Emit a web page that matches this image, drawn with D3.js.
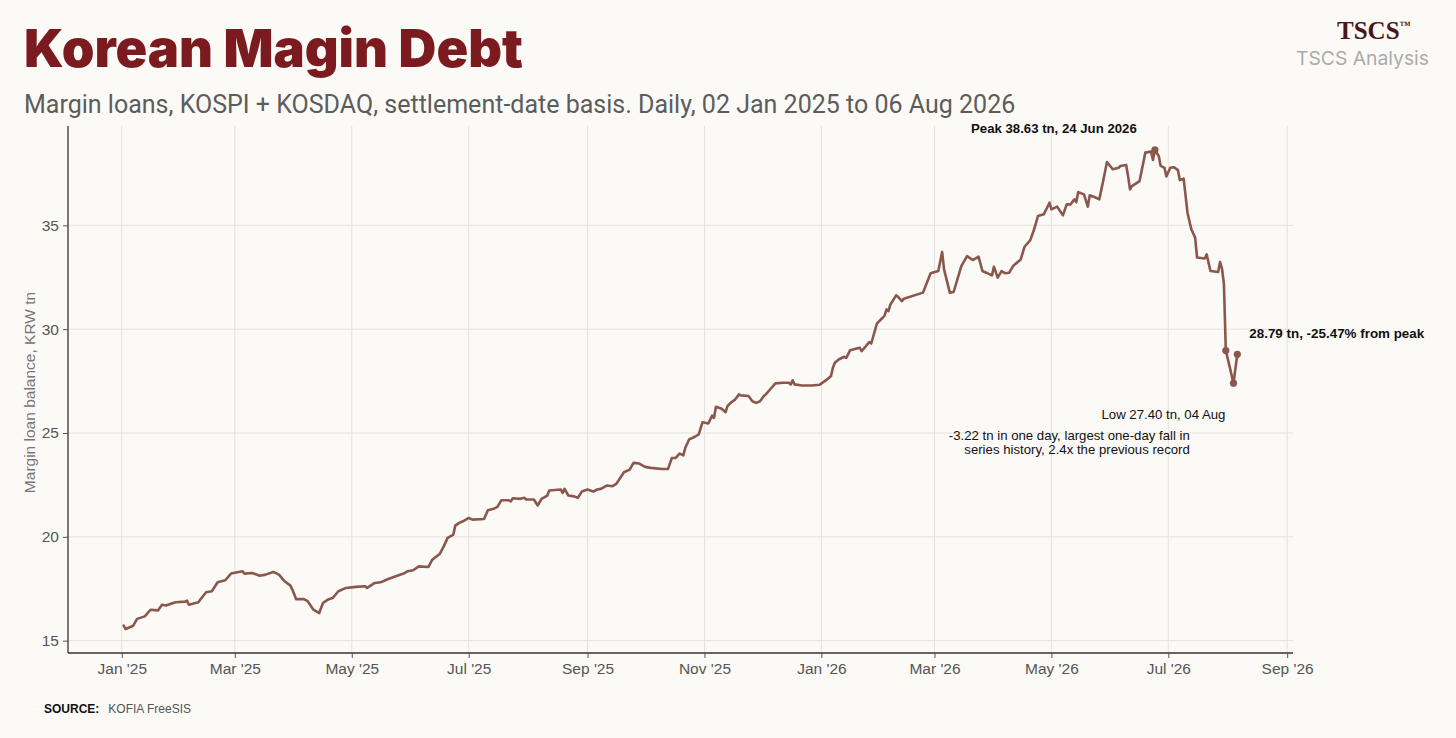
<!DOCTYPE html>
<html>
<head>
<meta charset="utf-8">
<script src="https://cdn.jsdelivr.net/npm/d3@7/dist/d3.min.js"></script>
<style>
  html, body { margin: 0; padding: 0; background: #fbfaf7; }
  svg { display: block; }
</style>
</head>
<body>
<svg id="chart" width="1456" height="738"></svg>
<script>
// ---------------- DATA ----------------
const dates = [
  "2025-01-02","2025-01-03","2025-01-07","2025-01-09","2025-01-13","2025-01-16","2025-01-20","2025-01-22","2025-01-24","2025-01-29",
  "2025-02-03","2025-02-04","2025-02-05","2025-02-10","2025-02-11","2025-02-14","2025-02-17","2025-02-20","2025-02-24","2025-02-27",
  "2025-03-05","2025-03-06","2025-03-10","2025-03-14","2025-03-17","2025-03-21","2025-03-24","2025-03-27","2025-03-30","2025-03-31",
  "2025-04-02","2025-04-06","2025-04-08","2025-04-11","2025-04-14","2025-04-16","2025-04-19","2025-04-21","2025-04-24","2025-04-28",
  "2025-05-03","2025-05-08","2025-05-09","2025-05-13","2025-05-16","2025-05-20","2025-05-28","2025-05-30",
  "2025-06-02","2025-06-05","2025-06-10","2025-06-12","2025-06-16","2025-06-18","2025-06-20","2025-06-23","2025-06-24","2025-06-26","2025-06-28",
  "2025-07-01","2025-07-03","2025-07-09","2025-07-11","2025-07-14","2025-07-16","2025-07-18","2025-07-22","2025-07-23","2025-07-24","2025-07-28","2025-07-30","2025-07-31",
  "2025-08-04","2025-08-06","2025-08-08","2025-08-11","2025-08-12","2025-08-18","2025-08-19","2025-08-20","2025-08-22","2025-08-25","2025-08-27","2025-08-29",
  "2025-09-01","2025-09-04","2025-09-06","2025-09-08","2025-09-11","2025-09-14","2025-09-16","2025-09-20","2025-09-23","2025-09-25","2025-09-28",
  "2025-10-01","2025-10-04","2025-10-10","2025-10-13","2025-10-15","2025-10-17","2025-10-19","2025-10-21","2025-10-22","2025-10-24","2025-10-27","2025-10-29","2025-10-31",
  "2025-11-03","2025-11-05","2025-11-06","2025-11-07","2025-11-10","2025-11-12","2025-11-13","2025-11-15","2025-11-17","2025-11-19","2025-11-20","2025-11-24","2025-11-26","2025-11-28","2025-11-30",
  "2025-12-02","2025-12-03","2025-12-06","2025-12-08","2025-12-12","2025-12-15","2025-12-16","2025-12-17","2025-12-18","2025-12-22","2025-12-27","2025-12-31",
  "2026-01-04","2026-01-06","2026-01-07","2026-01-08","2026-01-10","2026-01-13","2026-01-14","2026-01-16","2026-01-21","2026-01-22","2026-01-26","2026-01-27","2026-01-30",
  "2026-02-02","2026-02-03","2026-02-04","2026-02-05","2026-02-06","2026-02-09","2026-02-10","2026-02-12","2026-02-13","2026-02-23","2026-02-27",
  "2026-03-03","2026-03-05","2026-03-06","2026-03-09","2026-03-11","2026-03-14","2026-03-15","2026-03-18","2026-03-21","2026-03-24","2026-03-26","2026-03-28","2026-03-31",
  "2026-04-01","2026-04-03","2026-04-05","2026-04-07","2026-04-09","2026-04-11","2026-04-15","2026-04-17","2026-04-20","2026-04-22","2026-04-24","2026-04-27","2026-04-30",
  "2026-05-01","2026-05-04","2026-05-07","2026-05-09","2026-05-11","2026-05-13","2026-05-14","2026-05-15","2026-05-18","2026-05-20","2026-05-21","2026-05-24","2026-05-26","2026-05-28","2026-05-30",
  "2026-06-02","2026-06-05","2026-06-06","2026-06-09","2026-06-10","2026-06-11","2026-06-12","2026-06-16","2026-06-19","2026-06-22","2026-06-23","2026-06-24","2026-06-26","2026-06-27","2026-06-29","2026-06-30",
  "2026-07-02","2026-07-04","2026-07-06","2026-07-07","2026-07-09","2026-07-11","2026-07-13","2026-07-15","2026-07-16","2026-07-20","2026-07-21","2026-07-23","2026-07-27","2026-07-28","2026-07-29","2026-07-30","2026-07-31",
  "2026-08-04","2026-08-06"
];
const values = [
  15.72,15.56,15.72,16.05,16.17,16.49,16.46,16.73,16.69,16.85,
  16.88,16.93,16.73,16.85,16.98,17.33,17.38,17.81,17.91,18.23,
  18.34,18.23,18.26,18.13,18.18,18.31,18.18,17.86,17.65,17.46,
  17.00,17.00,16.90,16.49,16.33,16.82,17.00,17.05,17.38,17.54,
  17.59,17.62,17.54,17.78,17.81,17.97,18.23,18.34,
  18.39,18.58,18.55,18.90,19.19,19.54,19.95,20.11,20.54,20.67,20.75,
  20.91,20.83,20.86,21.28,21.35,21.44,21.76,21.76,21.71,21.86,21.83,21.88,21.80,
  21.80,21.51,21.83,21.99,22.23,22.28,22.12,22.31,21.99,21.95,21.88,22.18,
  22.28,22.18,22.28,22.31,22.47,22.44,22.55,23.11,23.24,23.56,23.53,
  23.37,23.32,23.27,23.27,23.80,23.80,24.01,23.92,24.29,24.69,24.82,24.93,25.52,
  25.46,25.84,25.73,26.26,26.17,26.00,26.29,26.48,26.61,26.86,26.81,26.78,26.53,26.45,26.53,
  26.78,26.86,27.18,27.39,27.42,27.42,27.34,27.54,27.34,27.29,27.29,27.32,
  27.58,27.74,28.14,28.38,28.54,28.67,28.62,28.99,29.11,28.94,29.38,29.31,30.28,
  30.55,30.66,30.95,30.87,31.19,31.63,31.56,31.35,31.47,31.76,32.69,
  32.80,33.72,32.88,31.76,31.79,32.72,33.04,33.52,33.33,33.49,32.80,32.72,32.59,
  33.01,32.48,32.80,32.69,32.72,33.04,33.36,33.97,34.29,34.81,35.45,35.53,36.09,
  35.77,35.90,35.48,36.01,36.01,36.25,36.12,36.60,36.49,35.90,36.45,36.34,36.25,37.13,38.05,
  37.70,37.77,37.86,37.91,37.38,36.73,36.89,37.13,38.50,38.55,38.15,38.63,38.34,37.86,37.77,37.35,
  37.77,37.80,37.66,37.18,37.25,35.61,34.81,34.41,33.45,33.40,33.60,32.80,32.75,33.23,32.92,32.19,28.97,
  27.40,28.79
];
const yTicks = [15, 20, 25, 30, 35];
const xTickDates = ["2025-01-01","2025-03-01","2025-05-01","2025-07-01","2025-09-01","2025-11-01","2026-01-01","2026-03-01","2026-05-01","2026-07-01","2026-09-01"];
const xTickLabels = ["Jan '25","Mar '25","May '25","Jul '25","Sep '25","Nov '25","Jan '26","Mar '26","May '26","Jul '26","Sep '26"];
const markedDates = ["2026-06-24","2026-07-31","2026-08-04","2026-08-06"];

const titleText = "Korean Magin Debt";
const subtitleText = "Margin loans, KOSPI + KOSDAQ, settlement-date basis. Daily, 02 Jan 2025 to 06 Aug 2026";
const yTitle = "Margin loan balance, KRW tn";
const peakLabel = "Peak 38.63 tn, 24 Jun 2026";
const lastLabel = "28.79 tn, -25.47% from peak";
const lowLabel = "Low 27.40 tn, 04 Aug";
const fallNote = ["-3.22 tn in one day, largest one-day fall in", "series history, 2.4x the previous record"];

// ---------------- CHART ----------------
const parse = d3.utcParse("%Y-%m-%d");
const data = dates.map((d, i) => ({ date: parse(d), value: values[i] }));

const svg = d3.select("#chart");
const W = 1456, H = 738;
const plot = { left: 68, right: 1293, top: 126, bottom: 653 };

svg.append("rect").attr("width", W).attr("height", H).attr("fill", "#fbfaf7");

// scales with 5% expansion like the reference
const xExt = d3.extent(data, d => d.date);
const xPad = (xExt[1] - xExt[0]) * 0.05;
const x = d3.scaleUtc()
  .domain([new Date(+xExt[0] - xPad), new Date(+xExt[1] + xPad)])
  .range([plot.left, plot.right]);
const yExt = d3.extent(data, d => d.value);
const yPad = (yExt[1] - yExt[0]) * 0.05;
const y = d3.scaleLinear()
  .domain([yExt[0] - yPad, yExt[1] + yPad])
  .range([plot.bottom, plot.top]);

const xTicks = xTickDates.map(parse);

// grid
const grid = svg.append("g").attr("class", "grid");
grid.selectAll("line.h").data(yTicks).join("line")
  .attr("x1", plot.left).attr("x2", plot.right)
  .attr("y1", d => y(d)).attr("y2", d => y(d))
  .attr("stroke", "#e4e2de").attr("stroke-width", 1);
grid.selectAll("line.v").data(xTicks).join("line")
  .attr("x1", d => x(d)).attr("x2", d => x(d))
  .attr("y1", plot.top).attr("y2", plot.bottom)
  .attr("stroke", "#e4e2de").attr("stroke-width", 1);

// axes
const fontAxis = "'Liberation Sans', Arial, sans-serif";
const yAxis = d3.axisLeft(y).tickValues(yTicks).tickSize(5).tickPadding(4).tickFormat(d3.format("d"));
const gy = svg.append("g").attr("transform", `translate(${plot.left},0)`).call(yAxis);
const xAxis = d3.axisBottom(x).tickValues(xTicks).tickSize(5).tickPadding(5)
  .tickFormat((d, i) => xTickLabels[i]);
const gx = svg.append("g").attr("transform", `translate(0,${plot.bottom})`).call(xAxis);
[gx, gy].forEach(g => {
  g.select(".domain").attr("stroke", "#333").attr("stroke-width", 1.3);
  g.selectAll(".tick line").attr("stroke", "#555");
  g.selectAll(".tick text").attr("fill", "#555").attr("font-family", fontAxis).attr("font-size", 15.5);
});
gy.select(".domain").attr("d", `M0,${plot.top}V${plot.bottom}`);
gx.select(".domain").attr("d", `M${plot.left},0H${plot.right}`);

// y title
svg.append("text")
  .attr("transform", `translate(35,${(plot.top + plot.bottom) / 2 + 3}) rotate(-90)`)
  .attr("text-anchor", "middle")
  .attr("font-family", fontAxis).attr("font-size", 15.5).attr("fill", "#777")
  .text(yTitle);

// line
const lineColor = "#8b574c";
const line = d3.line().x(d => x(d.date)).y(d => y(d.value));
svg.append("path").datum(data)
  .attr("d", line).attr("fill", "none")
  .attr("stroke", lineColor).attr("stroke-width", 2.6)
  .attr("stroke-linejoin", "round").attr("stroke-linecap", "round");

// markers
const fmt = d3.utcFormat("%Y-%m-%d");
const marked = data.filter(d => markedDates.includes(fmt(d.date)));
svg.selectAll("circle.mk").data(marked).join("circle")
  .attr("cx", d => x(d.date)).attr("cy", d => y(d.value)).attr("r", 3.6)
  .attr("fill", lineColor);

const byDate = s => data.find(d => fmt(d.date) === s);
const peak = byDate("2026-06-24"), fall = byDate("2026-07-31"), low = byDate("2026-08-04"), last = byDate("2026-08-06");

const annFont = "'Liberation Sans', Arial, sans-serif";
svg.append("text")
  .attr("x", x(peak.date) - 101).attr("y", y(peak.value) - 17)
  .attr("text-anchor", "middle").attr("font-family", annFont).attr("font-weight", "bold")
  .attr("font-size", 13.2).attr("fill", "#111").text(peakLabel);
svg.append("text")
  .attr("x", x(last.date) + 12).attr("y", y(last.value) - 16)
  .attr("font-family", annFont).attr("font-weight", "bold")
  .attr("font-size", 13.4).attr("fill", "#111").text(lastLabel);
svg.append("text")
  .attr("x", x(low.date) - 70).attr("y", y(low.value) + 36)
  .attr("text-anchor", "middle").attr("font-family", annFont)
  .attr("font-size", 13.2).attr("fill", "#111").text(lowLabel);
svg.append("text")
  .attr("font-family", annFont).attr("font-size", 13.2).attr("fill", "#111")
  .attr("text-anchor", "end")
  .selectAll("tspan").data(fallNote).join("tspan")
  .attr("x", x(fall.date) - 36)
  .attr("y", (d, i) => y(low.value) + 57 + i * 13.5)
  .text(d => d);

// title & subtitle (fit to reference widths)
function fit(sel, target) {
  const len = sel.node().getComputedTextLength();
  const fs = parseFloat(sel.attr("font-size"));
  sel.attr("font-size", fs * target / len);
}
const title = svg.append("text")
  .attr("x", 24).attr("y", 67)
  .attr("font-family", "Inter, Roboto, sans-serif").attr("font-weight", 900)
  .attr("font-size", 51).attr("fill", "#7b1b20").text(titleText);
fit(title, 499);
const sub = svg.append("text")
  .attr("x", 24).attr("y", 113)
  .attr("font-family", "Roboto, 'Noto Sans', sans-serif").attr("font-weight", 400)
  .attr("font-size", 21).attr("fill", "#5c5c5c").text(subtitleText);
fit(sub, 992);

// logo
const logo = svg.append("text")
  .attr("x", 1337).attr("y", 39)
  .attr("font-family", "'Liberation Serif', 'DejaVu Serif', serif").attr("font-weight", "bold")
  .attr("font-size", 25).attr("fill", "#4a1616");
logo.append("tspan").text("TSCS");
logo.append("tspan").attr("font-size", 11).attr("dy", -10).text("™");
const analysis = svg.append("text")
  .attr("x", 1296).attr("y", 65)
  .attr("font-family", "Inter, Roboto, sans-serif").attr("font-size", 18).attr("fill", "#ababab")
  .text("TSCS Analysis");
fit(analysis, 133);

// source
svg.append("text")
  .attr("x", 44).attr("y", 713)
  .attr("font-family", annFont).attr("font-size", 12).attr("fill", "#111")
  .call(t => {
    t.append("tspan").attr("font-weight", "bold").text("SOURCE:");
    t.append("tspan").attr("dx", 9).attr("fill", "#555").text("KOFIA FreeSIS");
  });
</script>
</body>
</html>
